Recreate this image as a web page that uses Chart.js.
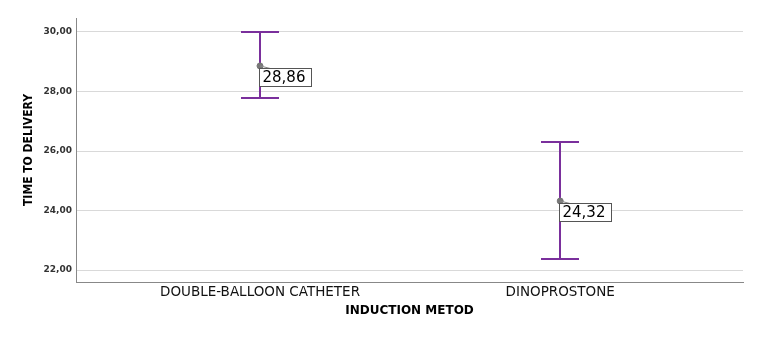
<!DOCTYPE html>
<html><head><meta charset="utf-8">
<script src="https://cdn.jsdelivr.net/npm/chart.js@4"></script>
<style>html,body{margin:0;padding:0;background:#fff}#wrap{width:777px;height:338px}</style>
</head><body><div id="wrap"><canvas id="c" width="777" height="338"></canvas></div>
<script>
const categories = ['DOUBLE-BALLOON CATHETER', 'DINOPROSTONE'];
const means = [28.86, 24.32];
const lower = [27.78, 22.37];
const upper = [30.00, 26.30];
const yTicks = [22, 24, 26, 28, 30];

const fmt = v => v.toFixed(2).replace('.', ',');

const errPlugin = {
  id: 'err',
  beforeDatasetsDraw(chart) {
    const {ctx, scales: {x, y}} = chart;
    ctx.save();
    ctx.strokeStyle = '#7a2f9c';
    ctx.lineWidth = 2;
    categories.forEach((c, i) => {
      const px = Math.round(x.getPixelForValue(i));
      const yt = y.getPixelForValue(upper[i]);
      const yb = y.getPixelForValue(lower[i]);
      ctx.beginPath();
      ctx.moveTo(px, yt); ctx.lineTo(px, yb);
      ctx.moveTo(px - 19, yt); ctx.lineTo(px + 19, yt);
      ctx.moveTo(px - 19, yb); ctx.lineTo(px + 19, yb);
      ctx.stroke();
    });
    ctx.restore();
  },
  afterDatasetsDraw(chart) {
    const {ctx, scales: {x, y}} = chart;
    ctx.save();
    categories.forEach((c, i) => {
      const px = x.getPixelForValue(i);
      const py = y.getPixelForValue(means[i]);
      ctx.strokeStyle = '#888';
      ctx.lineWidth = 1;
      ctx.beginPath();
      ctx.moveTo(px, py); ctx.lineTo(px + 12, py + 3);
      ctx.stroke();
      const bx = Math.round(px) - 0.5, by = Math.round(py) + 2.5;
      ctx.fillStyle = '#fff';
      ctx.fillRect(bx, by, 52, 18);
      ctx.strokeStyle = '#555';
      ctx.strokeRect(bx, by, 52, 18);
      ctx.fillStyle = '#000';
      ctx.font = '15px "DejaVu Sans"';
      ctx.textBaseline = 'middle';
      ctx.textAlign = 'left';
      ctx.fillText(fmt(means[i]), bx + 3, by + 10);
    });
    ctx.restore();
  }
};

new Chart(document.getElementById('c'), {
  type: 'scatter',
  data: {
    datasets: [{
      data: means.map((m, i) => ({x: i, y: m})),
      pointRadius: 3,
      pointBackgroundColor: '#777',
      pointBorderColor: '#777',
      showLine: false
    }]
  },
  options: {
    responsive: false,
    animation: false,
    events: [],
    layout: {padding: {left: 18, right: 34, top: 18, bottom: 16}},
    plugins: {legend: {display: false}, tooltip: {enabled: false}},
    scales: {
      x: {
        type: 'linear',
        min: -0.613, max: 1.609,
        afterBuildTicks: s => { s.ticks = categories.map((c, i) => ({value: i})); },
        afterFit: s => { s.height = 40; },
        ticks: {
          callback: v => categories[v] ?? '',
          color: '#111',
          font: {family: '"DejaVu Sans"', size: 13.5},
          padding: 2,
          maxRotation: 0, autoSkip: false
        },
        grid: {display: false, drawTicks: false},
        border: {display: true, color: '#888', width: 1},
        title: {
          display: true, text: 'INDUCTION METOD', color: '#000',
          font: {family: '"DejaVu Sans"', size: 12, weight: 'bold'},
          padding: {top: 4}
        }
      },
      y: {
        min: 21.6, max: 30.47,
        afterBuildTicks: s => { s.ticks = yTicks.map(v => ({value: v})); },
        afterFit: s => { s.width = 58; },
        ticks: {
          callback: v => fmt(v),
          color: '#333',
          font: {family: '"DejaVu Sans"', size: 9, weight: 'bold'},
          padding: 4
        },
        grid: {color: '#d9d9d9', lineWidth: 1, drawTicks: false},
        border: {display: true, color: '#888', width: 1},
        title: {
          display: true, text: 'TIME TO DELIVERY', color: '#000',
          font: {family: '"Liberation Sans Narrow", "DejaVu Sans Condensed"', size: 12, weight: 'bold'},
          padding: {bottom: 4}
        }
      }
    }
  },
  plugins: [errPlugin]
});
</script>
</body></html>
